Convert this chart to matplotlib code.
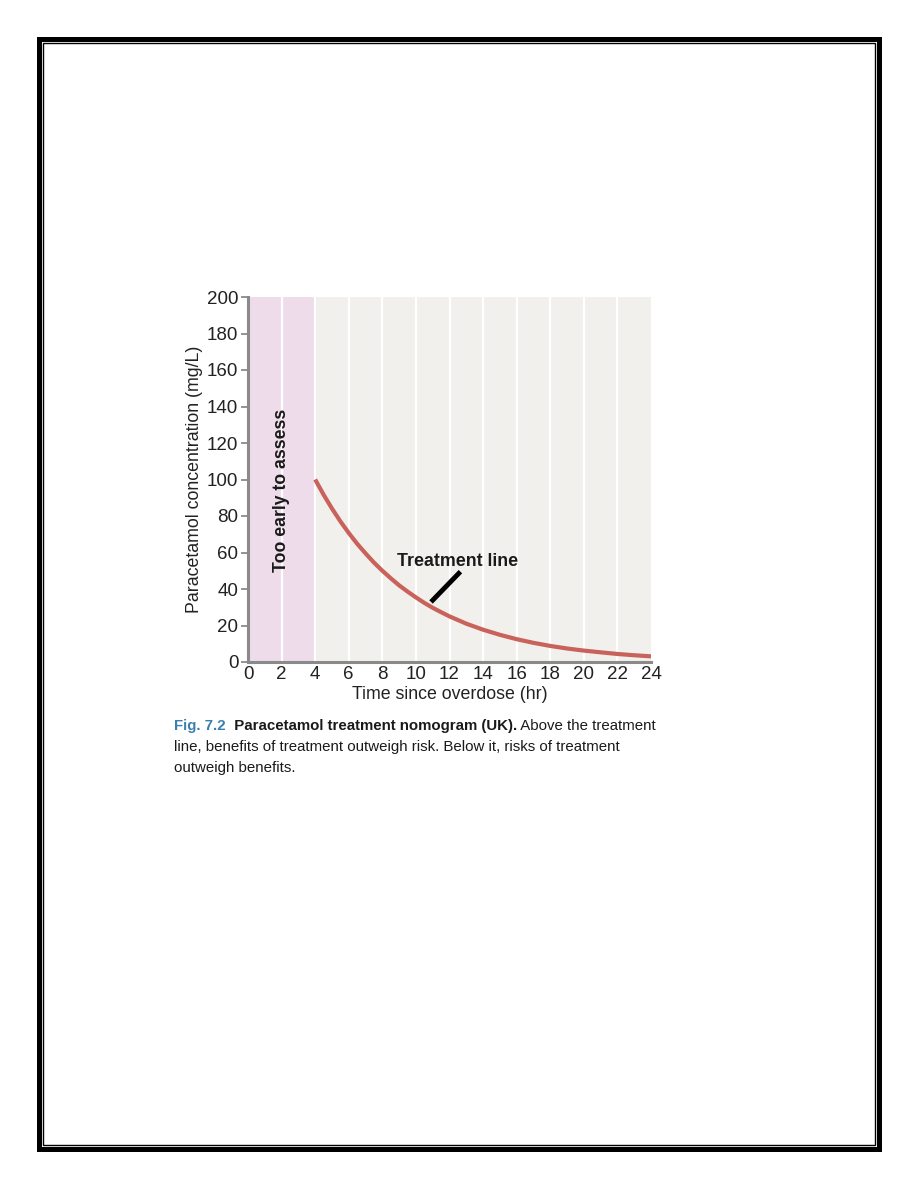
import numpy as np
import matplotlib
matplotlib.use("Agg")
import matplotlib.pyplot as plt
from matplotlib.patches import Rectangle

# дані: лінія лікування (години, мг/л)
hours = [4, 4.5, 5, 5.5, 6, 6.5, 7, 7.5, 8, 8.5, 9, 9.5, 10, 10.5, 11, 11.5, 12,
         13, 14, 15, 16, 17, 18, 19, 20, 21, 22, 23, 24]
conc = [100, 91.7, 84.1, 77.1, 70.7, 64.8, 59.5, 54.5, 50, 45.9, 42, 38.6, 35.4,
        32.4, 29.7, 27.3, 25, 21, 17.7, 14.9, 12.5, 10.5, 8.8, 7.4, 6.25, 5.3,
        4.4, 3.7, 3.1]
xticks = list(range(0, 25, 2))
yticks = list(range(0, 201, 20))

plt.rcParams['font.family'] = ['Liberation Sans', 'DejaVu Sans']

fig = plt.figure(figsize=(9.18, 11.88), dpi=100)

# рамка сторінки
W, H = 918, 1188
fig.add_artist(Rectangle((38.5 / W, (H - 1149) / H), (879 - 38.5) / W, (1149 - 38.5) / H,
                         transform=fig.transFigure, fill=False, lw=3.6, ec='black'))
fig.add_artist(Rectangle((42.8 / W, (H - 1144.8) / H), (874.6 - 42.8) / W, (1144.8 - 42.8) / H,
                         transform=fig.transFigure, fill=False, lw=1.0, ec='black'))

ax = fig.add_axes([248 / W, (H - 662) / H, 403 / W, 365 / H])
ax.set_facecolor('#f1f0ec')
ax.axvspan(0, 4, color='#efdcea', zorder=0)
for x in xticks[1:-1]:
    ax.axvline(x, color='white', lw=1.6, zorder=1)

ax.plot(hours, conc, color='#c8625a', lw=3.0, zorder=3, solid_capstyle='butt')

ax.set_xlim(0, 24)
ax.set_ylim(0, 200)
ax.set_xticks(xticks)
ax.set_yticks(yticks)
ax.tick_params(axis='x', length=0, pad=3, labelsize=13.5, colors='#222222')
ax.tick_params(axis='y', length=5, width=1.3, color='#8a8a8a', pad=2, labelsize=13.5,
               labelcolor='#222222')
for s in ['top', 'right']:
    ax.spines[s].set_visible(False)
for s in ['left', 'bottom']:
    ax.spines[s].set_color('#8a8a8a')
    ax.spines[s].set_linewidth(2.2)

ax.set_xlabel('Time since overdose (hr)', fontsize=12.8, color='#222222', labelpad=2)
ax.set_ylabel('Paracetamol concentration (mg/L)', fontsize=12.8, color='#222222', labelpad=3)

ax.text(2, 94, 'Too early to assess', rotation=90, ha='center', va='center',
        fontsize=12.7, fontweight='bold', color='#1a1a1a', zorder=4)
ax.text(8.9, 55, 'Treatment line', ha='left', va='center', fontsize=12.8,
        fontweight='bold', color='#1a1a1a', zorder=4)
ax.plot([12.65, 10.9], [49.5, 32.9], color='black', lw=3.5, zorder=4, solid_capstyle='butt')

# підпис рисунка
cap = ['Liberation Sans Narrow', 'Liberation Sans', 'DejaVu Sans']
fs = 10.8
t1 = fig.text(174 / W, (H - 730) / H, 'Fig. 7.2', fontsize=fs, fontweight='bold',
              color='#3a7fae', family=cap, va='baseline')
t2 = fig.text(0, 0, '  Paracetamol treatment nomogram (UK).', fontsize=fs,
              fontweight='bold', color='#1a1a1a', family=cap)
t3 = fig.text(0, 0, ' Above the treatment', fontsize=fs, color='#1a1a1a', family=cap)

fig.canvas.draw()
r = fig.canvas.get_renderer()
bb = t1.get_window_extent(r)
t2.set_position((bb.x1 / fig.bbox.width, (H - 730) / H))
t2.set_va('baseline')
bb2 = t2.get_window_extent(r)
t3.set_position((bb2.x1 / fig.bbox.width, (H - 730) / H))
t3.set_va('baseline')

fig.text(174 / W, (H - 751) / H, 'line, benefits of treatment outweigh risk. Below it, risks of treatment',
         fontsize=fs, color='#1a1a1a', family=cap, va='baseline')
fig.text(174 / W, (H - 772) / H, 'outweigh benefits.', fontsize=fs, color='#1a1a1a',
         family=cap, va='baseline')

fig.savefig('out.png', dpi=100)
